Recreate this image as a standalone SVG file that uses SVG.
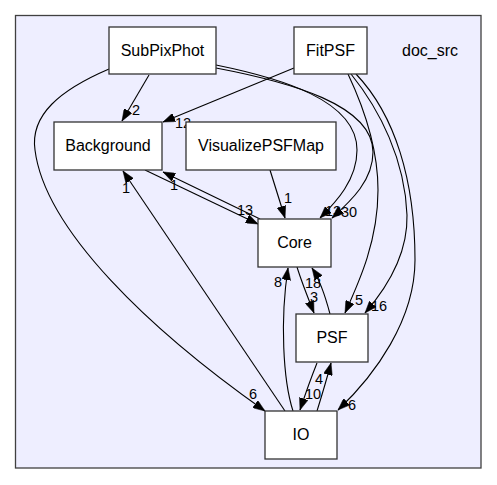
<svg xmlns="http://www.w3.org/2000/svg" width="497" height="485" viewBox="0 0 497 485">
<style>
.node rect{fill:#ffffff;stroke:#333333;stroke-width:1.3}
.node text{font-family:"Liberation Sans",Arial,sans-serif;font-size:16px;fill:#000;text-anchor:middle}
.edge path{fill:none;stroke:#000;stroke-width:1.1;marker-end:url(#ah)}
.lbl{font-family:"Liberation Sans",Arial,sans-serif;font-size:14.5px;fill:#000}
</style>
<defs>
<marker id="ah" viewBox="0 0 12 9" refX="12" refY="4.5" markerWidth="12" markerHeight="9" markerUnits="userSpaceOnUse" orient="auto">
<path d="M0,0 L12,4.5 L0,9 z" fill="#000" stroke="#000" stroke-width="0.5"/>
</marker>
</defs>
<g id="cluster_doc_src">
<rect x="15.5" y="15.5" width="465.5" height="452.5" fill="#eeeeff" stroke="#404040" stroke-width="1.3"/>
<text x="430" y="56" style="font-family:'Liberation Sans',Arial,sans-serif;font-size:16px;text-anchor:middle">doc_src</text>
</g>
<g id="edges" class="edge">
<path d="M149,75 L122,121"/>
<path d="M294,68 L163,122"/>
<path d="M109,69 C60,90 30,115 35,150 C45,230 150,330 265,411"/>
<path d="M216,65 C280,78 357,100 357,150 C357,180 336,202 320,218"/>
<path d="M216,68 C290,82 373,105 373,152 C373,180 352,200 332,218"/>
<path d="M348,74 C365,110 378,150 378,190 C378,240 360,280 345,313"/>
<path d="M351,74 C380,110 405,160 407,215 C408,255 385,290 365,313"/>
<path d="M356,74 C395,115 415,180 415,260 C415,320 375,375 338,410"/>
<path d="M145,170 L258,224"/>
<path d="M260,219 L163,172"/>
<path d="M270,170 L285,218"/>
<path d="M285,411 L123,171"/>
<path d="M293,411 C283,380 280,320 288,268"/>
<path d="M297,267 C302,283 308,298 314,313"/>
<path d="M330,314 C325,295 320,280 312,268"/>
<path d="M317,363 C311,378 305,395 300,410"/>
<path d="M317,411 C322,395 327,378 331,363"/>
</g>
<g id="edge_labels">
<text class="lbl" x="132" y="115">2</text>
<text class="lbl" x="175" y="128">12</text>
<text class="lbl" x="249" y="399">6</text>
<text class="lbl" x="325" y="216">13</text>
<text class="lbl" x="341" y="217">30</text>
<text class="lbl" x="355" y="305">5</text>
<text class="lbl" x="371" y="311">16</text>
<text class="lbl" x="348" y="410">6</text>
<text class="lbl" x="237" y="215">13</text>
<text class="lbl" x="170" y="190">1</text>
<text class="lbl" x="284" y="203">1</text>
<text class="lbl" x="122" y="193">1</text>
<text class="lbl" x="274" y="287">8</text>
<text class="lbl" x="305" y="288">18</text>
<text class="lbl" x="310" y="302">3</text>
<text class="lbl" x="305" y="399">10</text>
<text class="lbl" x="315" y="384">4</text>
</g>
<g id="node_SubPixPhot" class="node"><rect x="109" y="27" width="107" height="47"/><text x="162.5" y="56">SubPixPhot</text></g>
<g id="node_FitPSF" class="node"><rect x="294" y="27" width="73" height="47"/><text x="330.5" y="56">FitPSF</text></g>
<g id="node_Background" class="node"><rect x="54" y="122" width="108" height="48"/><text x="108" y="151">Background</text></g>
<g id="node_VisualizePSFMap" class="node"><rect x="186" y="122" width="150" height="48"/><text x="261" y="151">VisualizePSFMap</text></g>
<g id="node_Core" class="node"><rect x="258" y="219" width="73" height="48"/><text x="294.5" y="248">Core</text></g>
<g id="node_PSF" class="node"><rect x="296" y="314" width="72" height="48"/><text x="332" y="343">PSF</text></g>
<g id="node_IO" class="node"><rect x="265" y="411" width="72" height="48"/><text x="301" y="440">IO</text></g>
</svg>
